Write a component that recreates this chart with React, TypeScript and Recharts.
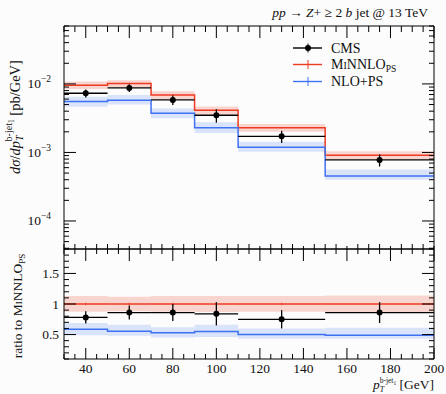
import React from 'react';
import { ComposedChart, Line, Area, Scatter, ErrorBar, XAxis, YAxis } from 'recharts';

const FONT = "'Liberation Serif', 'DejaVu Serif', serif";
const RED = '#ee3b22';
const BLUE = '#3e72f2';

// bins of pT(b-jet1) [GeV]
const binEdges = [30, 50, 70, 90, 110, 150, 200];
const binCenters = [40, 60, 80, 100, 130, 175];
const binHalfWidths = [10, 10, 10, 10, 20, 25];

// dsigma/dpT [pb/GeV]
const cmsValues = [0.00731, 0.00875, 0.00584, 0.00349, 0.00172, 0.000778];
const cmsRelErr = [0.13, 0.13, 0.16, 0.22, 0.2, 0.2];
const minnloValues = [0.0096, 0.0101, 0.0069, 0.00413, 0.0023, 0.00091];
const nloValues = [0.00552, 0.00578, 0.00373, 0.0023, 0.00119, 0.000454];

// ratio to MiNNLO_PS
const cmsRatio = [0.78, 0.86, 0.86, 0.84, 0.75, 0.86];
const cmsRatioErr = [0.1, 0.115, 0.14, 0.19, 0.15, 0.17];
const minnloBandLow = [0.875, 0.88, 0.875, 0.87, 0.875, 0.87];
const minnloBandHigh = [1.13, 1.12, 1.13, 1.13, 1.13, 1.14];
const minnloStatErr = [0.02, 0.02, 0.02, 0.025, 0.02, 0.025];
const nloRatio = [0.585, 0.555, 0.53, 0.55, 0.5, 0.49];
const nloBandLow = [0.49, 0.48, 0.45, 0.46, 0.43, 0.43];
const nloBandHigh = [0.69, 0.66, 0.62, 0.66, 0.6, 0.61];

// axis ticks
const xTicks: number[] = [];
for (let v = 30; v <= 200; v += 5) xTicks.push(v);
const logDomain = [3.9e-5, 0.07];
const logTicks: number[] = [];
for (let e = -5; e <= -2; e++) {
  for (let m = 1; m <= 9; m++) {
    const v = Number((m * Math.pow(10, e)).toPrecision(3));
    if (v >= logDomain[0] && v <= logDomain[1]) logTicks.push(v);
  }
}
const ratioTicks: number[] = [];
for (let k = 1; k <= 19; k++) ratioTicks.push(Number((k / 10).toFixed(1)));
const ratioLabels = [0.5, 1, 1.5];

const topRows = binEdges.map((x, i) => {
  const k = Math.min(i, minnloValues.length - 1);
  return {
    x,
    minnlo: minnloValues[k],
    minnloBand: [minnloValues[k] * minnloBandLow[k], minnloValues[k] * minnloBandHigh[k]],
    nlo: nloValues[k],
    nloBand: [nloValues[k] * nloBandLow[k] / nloRatio[k], nloValues[k] * nloBandHigh[k] / nloRatio[k]],
  };
});

const ratioRows = binEdges.map((x, i) => {
  const k = Math.min(i, nloRatio.length - 1);
  return {
    x,
    minnlo: 1,
    minnloBand: [minnloBandLow[k], minnloBandHigh[k]],
    nlo: nloRatio[k],
    nloBand: [nloBandLow[k], nloBandHigh[k]],
  };
});

const cmsTop = binCenters.map((x, i) => ({ x, y: cmsValues[i], ex: binHalfWidths[i], ey: cmsValues[i] * cmsRelErr[i] }));
const cmsRatioRows = binCenters.map((x, i) => ({ x, y: cmsRatio[i], ex: binHalfWidths[i], ey: cmsRatioErr[i] }));
const minnloTopErr = binCenters.map((x, i) => ({ x, y: minnloValues[i], ey: minnloValues[i] * minnloStatErr[i] }));
const minnloRatioErr = binCenters.map((x, i) => ({ x, y: 1, ey: minnloStatErr[i] }));

const isLogMajor = (v: number) => Math.abs(Math.log10(v) - Math.round(Math.log10(v))) < 1e-6;
const isXMajor = (v: number) => v % 20 === 0;
const isRatioMajor = (v: number) => ratioLabels.includes(v);

function tickRenderer(side: string, isMajor: (v: number) => boolean, majorLen: number, minorLen: number, label?: (v: number, x: number, y: number) => any) {
  return (p: any) => {
    const v = p.payload.value;
    const major = isMajor(v);
    const len = major ? majorLen : minorLen;
    let x2 = p.x;
    let y2 = p.y;
    if (side === 'bottom') y2 = p.y - len;
    if (side === 'top') y2 = p.y + len;
    if (side === 'left') x2 = p.x + len;
    if (side === 'right') x2 = p.x - len;
    return (
      <g>
        <line x1={p.x} y1={p.y} x2={x2} y2={y2} stroke="#000" strokeWidth={1} />
        {major && label ? label(v, p.x, p.y) : null}
      </g>
    );
  };
}

const xLabel = (v: number, x: number, y: number) => (
  <text x={x} y={y + 14} textAnchor="middle" fontFamily={FONT} fontSize={13.5} fill="#111">{v}</text>
);
const logLabel = (v: number, x: number, y: number) => (
  <text x={x - 13} y={y + 4.5} textAnchor="end" fontFamily={FONT} fontSize={13.5} fill="#111">
    10<tspan dy={-6} fontSize={9.5}>{'\u2212' + Math.abs(Math.round(Math.log10(v)))}</tspan>
  </text>
);
const ratioLabel = (v: number, x: number, y: number) => (
  <text x={x - 5} y={y + 4.5} textAnchor="end" fontFamily={FONT} fontSize={13.5} fill="#111">{v}</text>
);

const dotShape = (p: any) => <circle cx={p.cx} cy={p.cy} r={3} fill="#000" />;
const noShape = () => <g />;

function Legend() {
  const items = [
    { y: 48, color: '#000', dot: true },
    { y: 64.5, color: RED, dot: false },
    { y: 81.5, color: BLUE, dot: false },
  ];
  return (
    <g>
      {items.map((it, i) => (
        <g key={i}>
          <line x1={293} y1={it.y} x2={322} y2={it.y} stroke={it.color} strokeWidth={1.4} />
          <line x1={308} y1={it.y - 4.5} x2={308} y2={it.y + 4.5} stroke={it.color} strokeWidth={1} />
          {it.dot ? <circle cx={308} cy={it.y} r={3} fill="#000" /> : null}
        </g>
      ))}
      <text x={331} y={52.5} fontFamily={FONT} fontSize={14} fill="#111">CMS</text>
      <text x={331} y={69} fontFamily={FONT} fontSize={14} fill="#111">
        <tspan fontVariant="small-caps">MiNNLO</tspan>
        <tspan dy={3} fontSize={9.5}>PS</tspan>
      </text>
      <text x={331} y={86} fontFamily={FONT} fontSize={14} fill="#111">NLO+PS</text>
    </g>
  );
}

function Labels() {
  return (
    <svg width={446} height={394} style={{ position: 'absolute', left: 0, top: 0, pointerEvents: 'none' }}>
      <text x={428} y={17} textAnchor="end" fontFamily={FONT} fontSize={13.5} fill="#111">
        <tspan fontStyle="italic">pp</tspan> {'\u2192'} <tspan fontStyle="italic">Z</tspan>+ {'\u2265'} 2 <tspan fontStyle="italic">b</tspan> jet @ 13 TeV
      </text>
      <text transform="translate(20,117) rotate(-90)" textAnchor="middle" fontFamily={FONT} fontSize={14.5} fill="#111">
        <tspan fontStyle="italic">d{'\u03c3'}</tspan>/<tspan fontStyle="italic">dp</tspan>
        <tspan dy={3} fontSize={10} fontStyle="italic">T</tspan>
        <tspan dx={-6} dy={-11} fontSize={10}>b-jet</tspan>
        <tspan dy={2} fontSize={7.5}>1</tspan>
        <tspan dy={6}> [pb/GeV]</tspan>
      </text>
      <text transform="translate(22,306) rotate(-90)" textAnchor="middle" fontFamily={FONT} fontSize={13.5} fill="#111">
        ratio to <tspan fontVariant="small-caps">MiNNLO</tspan>
        <tspan dy={3} fontSize={9}>PS</tspan>
      </text>
      <text x={434} y={389} textAnchor="end" fontFamily={FONT} fontSize={13.5} fill="#111">
        <tspan fontStyle="italic">p</tspan>
        <tspan dy={3} fontSize={8} fontStyle="italic">T</tspan>
        <tspan dx={-4.5} dy={-9} fontSize={7.5}>b-jet</tspan>
        <tspan dy={1.5} fontSize={5.5}>1</tspan>
        <tspan dy={4.5}> [GeV]</tspan>
      </text>
      <Legend />
    </svg>
  );
}

export default function App() {
  return (
    <div style={{ position: 'absolute', left: 0, top: 0, width: 446, height: 394, background: '#fcfcfc', overflow: 'hidden' }}>
      <div style={{ position: 'absolute', left: 0, top: 0 }}>
        <ComposedChart width={446} height={250} data={topRows} margin={{ top: 25, right: 0, bottom: 0, left: 0 }}>
          <XAxis xAxisId="b" dataKey="x" type="number" domain={[30, 200]} allowDataOverflow ticks={xTicks} interval={0}
            height={1} tickSize={0} tickMargin={0} tickLine={false} axisLine={{ stroke: '#000' }}
            tick={tickRenderer('bottom', isXMajor, 3, 5)} />
          <XAxis xAxisId="t" orientation="top" dataKey="x" type="number" domain={[30, 200]} allowDataOverflow ticks={xTicks} interval={0}
            height={1} tickSize={0} tickMargin={0} tickLine={false} axisLine={{ stroke: '#000' }}
            tick={tickRenderer('top', isXMajor, 12, 6)} />
          <YAxis yAxisId="l" scale="log" type="number" domain={logDomain} allowDataOverflow ticks={logTicks} interval={0}
            width={64} tickSize={0} tickMargin={0} tickLine={false} axisLine={{ stroke: '#000' }}
            tick={tickRenderer('left', isLogMajor, 12, 5, logLabel)} />
          <YAxis yAxisId="r" orientation="right" scale="log" type="number" domain={logDomain} allowDataOverflow ticks={logTicks} interval={0}
            width={12} tickSize={0} tickMargin={0} tickLine={false} axisLine={{ stroke: '#000' }}
            tick={tickRenderer('right', isLogMajor, 12, 5)} />
          <Area xAxisId="b" yAxisId="l" type="stepAfter" dataKey="minnloBand" stroke="none" fill={RED} fillOpacity={0.2} isAnimationActive={false} />
          <Area xAxisId="b" yAxisId="l" type="stepAfter" dataKey="nloBand" stroke="none" fill={BLUE} fillOpacity={0.18} isAnimationActive={false} />
          <Line xAxisId="b" yAxisId="l" type="stepAfter" dataKey="minnlo" stroke={RED} strokeWidth={1.5} dot={false} isAnimationActive={false} />
          <Line xAxisId="b" yAxisId="l" type="stepAfter" dataKey="nlo" stroke={BLUE} strokeWidth={1.5} dot={false} isAnimationActive={false} />
          <Scatter xAxisId="b" yAxisId="l" data={minnloTopErr} dataKey="y" shape={noShape} isAnimationActive={false}>
            <ErrorBar dataKey="ey" direction="y" width={0} stroke={RED} strokeWidth={1} />
          </Scatter>
          <Scatter xAxisId="b" yAxisId="l" data={cmsTop} dataKey="y" shape={dotShape} isAnimationActive={false}>
            <ErrorBar dataKey="ex" direction="x" width={0} stroke="#000" strokeWidth={1.3} />
            <ErrorBar dataKey="ey" direction="y" width={0} stroke="#000" strokeWidth={1.3} />
          </Scatter>
        </ComposedChart>
      </div>
      <div style={{ position: 'absolute', left: 0, top: 248 }}>
        <ComposedChart width={446} height={146} data={ratioRows} margin={{ top: 0, right: 0, bottom: 0, left: 0 }}>
          <XAxis xAxisId="b" dataKey="x" type="number" domain={[30, 200]} allowDataOverflow ticks={xTicks} interval={0}
            height={35} tickSize={0} tickMargin={0} tickLine={false} axisLine={{ stroke: '#000' }}
            tick={tickRenderer('bottom', isXMajor, 11, 5, xLabel)} />
          <XAxis xAxisId="t" orientation="top" dataKey="x" type="number" domain={[30, 200]} allowDataOverflow ticks={xTicks} interval={0}
            height={1} tickSize={0} tickMargin={0} tickLine={false} axisLine={{ stroke: '#000' }}
            tick={tickRenderer('top', isXMajor, 12, 5)} />
          <YAxis yAxisId="l" type="number" domain={[0.1, 1.9]} allowDataOverflow ticks={ratioTicks} interval={0}
            width={64} tickSize={0} tickMargin={0} tickLine={false} axisLine={{ stroke: '#000' }}
            tick={tickRenderer('left', isRatioMajor, 12, 5, ratioLabel)} />
          <YAxis yAxisId="r" orientation="right" type="number" domain={[0.1, 1.9]} allowDataOverflow ticks={ratioTicks} interval={0}
            width={12} tickSize={0} tickMargin={0} tickLine={false} axisLine={{ stroke: '#000' }}
            tick={tickRenderer('right', isRatioMajor, 12, 5)} />
          <Area xAxisId="b" yAxisId="l" type="stepAfter" dataKey="minnloBand" stroke="none" fill={RED} fillOpacity={0.2} isAnimationActive={false} />
          <Area xAxisId="b" yAxisId="l" type="stepAfter" dataKey="nloBand" stroke="none" fill={BLUE} fillOpacity={0.18} isAnimationActive={false} />
          <Line xAxisId="b" yAxisId="l" type="stepAfter" dataKey="minnlo" stroke={RED} strokeWidth={1.5} dot={false} isAnimationActive={false} />
          <Line xAxisId="b" yAxisId="l" type="stepAfter" dataKey="nlo" stroke={BLUE} strokeWidth={1.5} dot={false} isAnimationActive={false} />
          <Scatter xAxisId="b" yAxisId="l" data={minnloRatioErr} dataKey="y" shape={noShape} isAnimationActive={false}>
            <ErrorBar dataKey="ey" direction="y" width={0} stroke={RED} strokeWidth={1} />
          </Scatter>
          <Scatter xAxisId="b" yAxisId="l" data={cmsRatioRows} dataKey="y" shape={dotShape} isAnimationActive={false}>
            <ErrorBar dataKey="ex" direction="x" width={0} stroke="#000" strokeWidth={1.3} />
            <ErrorBar dataKey="ey" direction="y" width={0} stroke="#000" strokeWidth={1.3} />
          </Scatter>
        </ComposedChart>
      </div>
      <Labels />
    </div>
  );
}
